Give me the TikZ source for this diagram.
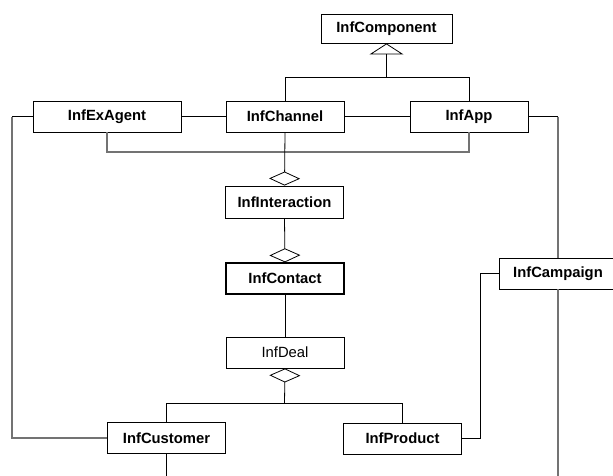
\documentclass[tikz,border=0pt]{standalone}
\usepackage{fontspec}
\setmainfont{Liberation Sans}
\usetikzlibrary{arrows.meta}
\begin{document}
\begin{tikzpicture}[x=1pt,y=-1pt,
  cls/.style={draw=black, line width=0.9pt, fill=white, inner sep=0pt,
    minimum width=118pt, minimum height=31pt,
    font=\fontsize{14.8}{16}\selectfont\bfseries},
  plain/.style={cls, font=\fontsize{14.8}{16}\selectfont},
  link/.style={draw=black, line width=0.8pt},
  glink/.style={draw=black!55, line width=1.2pt},
  gen/.style={link, -{Triangle[open, width=34pt, length=11pt]}},
  agg/.style={link, -{Diamond[open, width=31pt, length=14pt]}}
]
\useasboundingbox (0,0) rectangle (613,475);
\clip (0,0) rectangle (613,475);

% classes
\node[cls, minimum width=131pt, minimum height=29pt] (comp) at (386.5,28.5) {InfComponent};
\node[cls, minimum width=148pt] (agent) at (107,116.5) {InfExAgent};
\node[cls] (chan) at (285,116.5) {InfChannel};
\node[cls] (app) at (469,116.5) {InfApp};
\node[cls, minimum height=32pt] (inter) at (284.5,202) {InfInteraction};
\node[cls, line width=1.4pt] (contact) at (285,278.5) {InfContact};
\node[cls] (camp) at (558,273.5) {InfCampaign};
\node[plain] (deal) at (285,352.5) {InfDeal};
\node[cls] (cust) at (166.5,438) {InfCustomer};
\node[cls] (prod) at (402.5,438.5) {InfProduct};

% junction and end points
\coordinate (genj) at (386.5,77);
\coordinate (dealj) at (284.5,403);
\coordinate (leftc) at (12,116.5);
\coordinate (rightc) at (558,116.5);
\coordinate (campc) at (480,273.5);
\coordinate (custend) at (166.5,480);
\coordinate (campend) at (558,480);

% generalisation to InfComponent
\draw[link] (chan.north) |- (genj);
\draw[link] (app.north) |- (genj);
\draw[gen] (genj) -- (comp.south);

% row of associations
\draw[link] (agent.east) -- (chan.west);
\draw[link] (chan.east) -- (app.west);
\draw[glink] (agent.south) -- ++(0,19.5) -| (app.south);

% aggregation chain
\draw[agg] (chan.south) -- (inter.north);
\draw[agg] (inter.south) -- (contact.north);
\draw[link] (contact.south) -- (deal.north);
\draw[link] (dealj) -| (cust.north);
\draw[link] (dealj) -| (prod.north);
\draw[agg] (dealj) -- (deal.south);

% outer connectors
\draw[link] (agent.west) -- (leftc);
\draw[glink] (leftc) |- (cust.west);
\draw[link] (app.east) -- (rightc);
\draw[glink] (rightc) -- (camp.north);
\draw[glink] (camp.south) -- (campend);
\draw[link] (camp.west) -- (campc) |- (prod.east);
\draw[link] (cust.south) -- (custend);
\end{tikzpicture}
\end{document}
